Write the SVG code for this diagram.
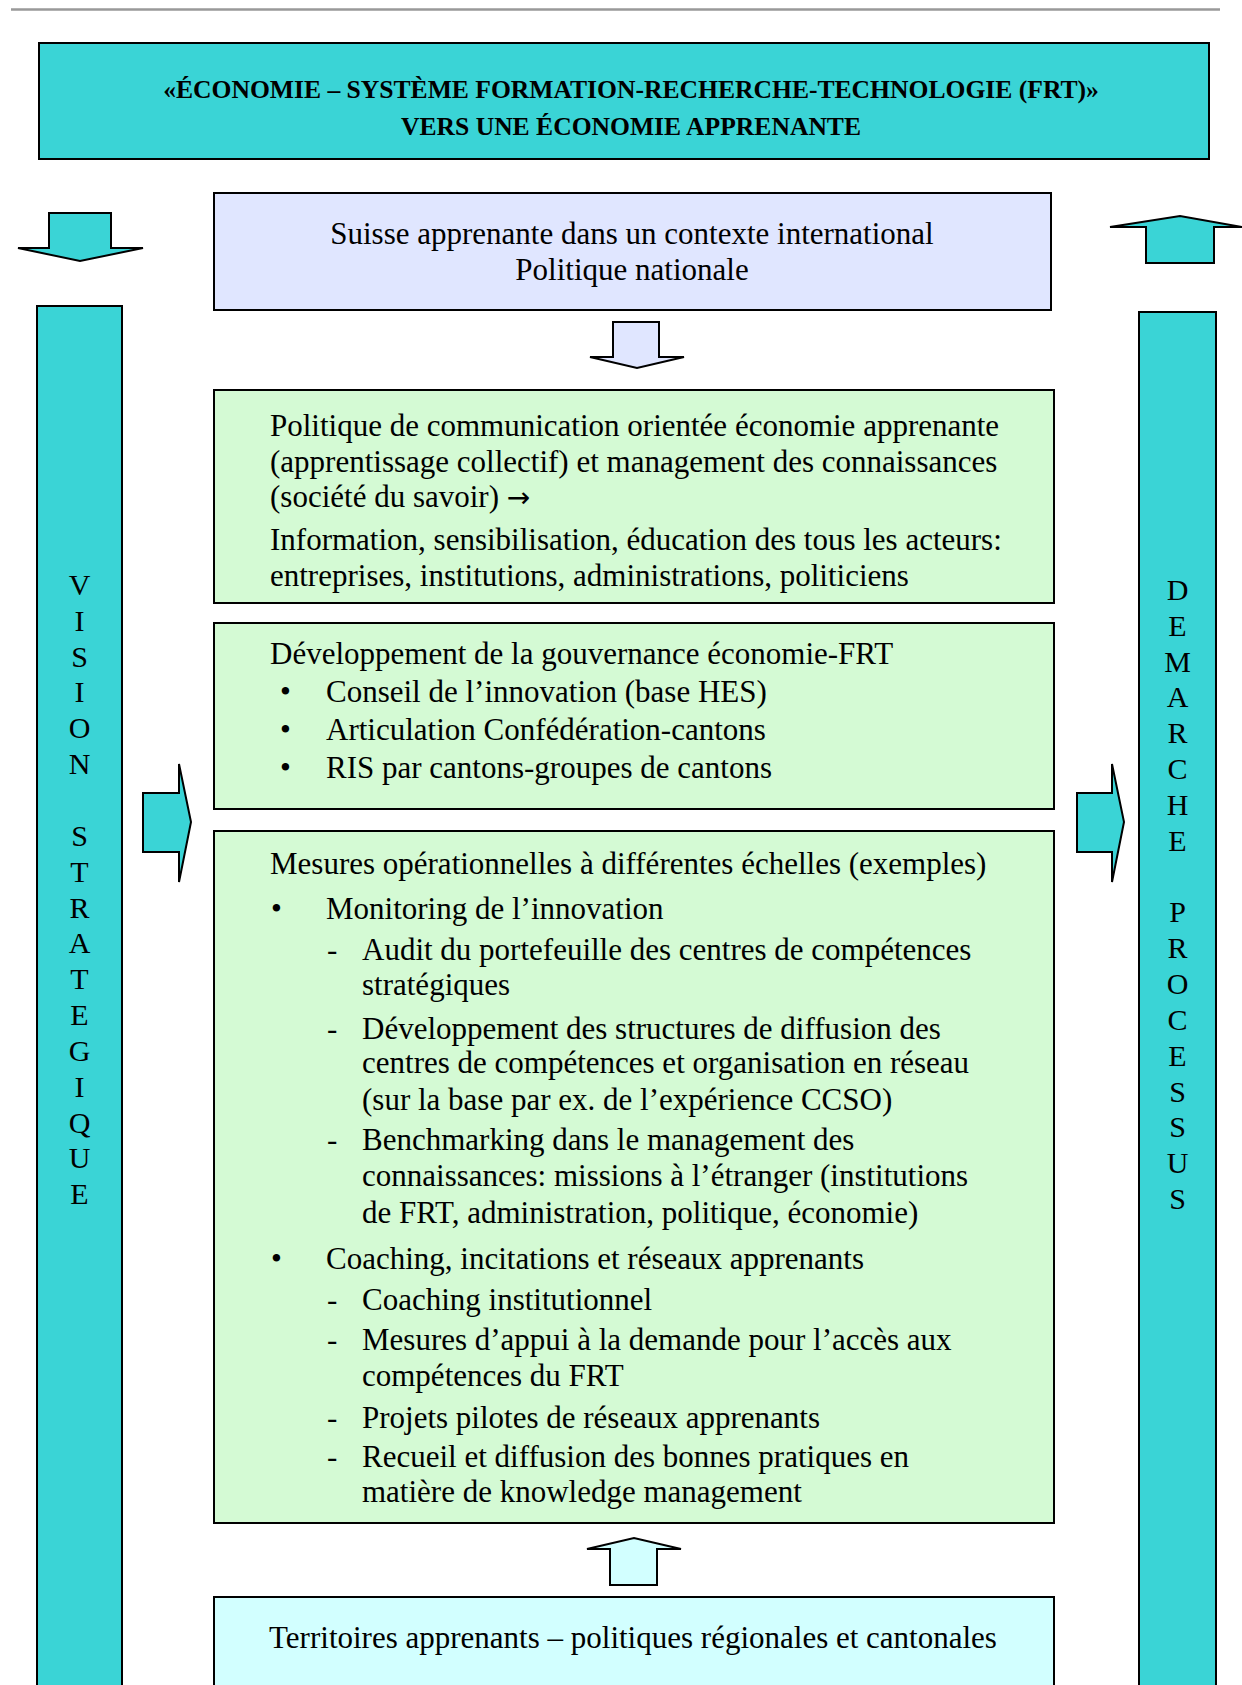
<svg xmlns="http://www.w3.org/2000/svg" width="1242" height="1685" viewBox="0 0 1242 1685">
<style>
.t{font-family:"Liberation Serif","Times New Roman",serif;font-size:31px;fill:#000}
.ti{font-family:"Liberation Serif","Times New Roman",serif;font-size:25.6px;font-weight:bold;fill:#000}
.c{text-anchor:middle}
.lt{font-family:"Liberation Serif","Times New Roman",serif;font-size:30px;fill:#000;text-anchor:middle}
.box{stroke:#000;stroke-width:2}
.cyan{fill:#3AD4D6}
.green{fill:#D4FAD4}
.lav{fill:#E0E6FF}
.lcy{fill:#D2FFFF}
.arr{stroke:#000;stroke-width:2;stroke-linejoin:miter}
.sym{font-family:"DejaVu Sans",sans-serif;font-size:28px}
</style>
<rect width="1242" height="1685" fill="#fff"/>
<line x1="11" y1="9.5" x2="1220" y2="9.5" stroke="#999" stroke-width="2.5"/>

<g id="title">
<rect class="box cyan" x="39" y="43" width="1170" height="116"/>
<text class="ti c" x="631" y="98">«ÉCONOMIE – SYSTÈME FORMATION-RECHERCHE-TECHNOLOGIE (FRT)»</text>
<text class="ti c" x="631" y="135">VERS UNE ÉCONOMIE APPRENANTE</text>
</g>

<g id="vision">
<rect class="box cyan" x="37" y="306" width="85" height="1400"/>
<text class="lt" x="79.5" y="595">V</text>
<text class="lt" x="79.5" y="631">I</text>
<text class="lt" x="79.5" y="667">S</text>
<text class="lt" x="79.5" y="702">I</text>
<text class="lt" x="79.5" y="738">O</text>
<text class="lt" x="79.5" y="774">N</text>
<text class="lt" x="79.5" y="846">S</text>
<text class="lt" x="79.5" y="882">T</text>
<text class="lt" x="79.5" y="918">R</text>
<text class="lt" x="79.5" y="953">A</text>
<text class="lt" x="79.5" y="989">T</text>
<text class="lt" x="79.5" y="1025">E</text>
<text class="lt" x="79.5" y="1061">G</text>
<text class="lt" x="79.5" y="1097">I</text>
<text class="lt" x="79.5" y="1133">Q</text>
<text class="lt" x="79.5" y="1168">U</text>
<text class="lt" x="79.5" y="1204">E</text>
</g>

<g id="demarche">
<rect class="box cyan" x="1139" y="312" width="77" height="1400"/>
<text class="lt" x="1177.5" y="600">D</text>
<text class="lt" x="1177.5" y="636">E</text>
<text class="lt" x="1177.5" y="672">M</text>
<text class="lt" x="1177.5" y="707">A</text>
<text class="lt" x="1177.5" y="743">R</text>
<text class="lt" x="1177.5" y="779">C</text>
<text class="lt" x="1177.5" y="815">H</text>
<text class="lt" x="1177.5" y="851">E</text>
<text class="lt" x="1177.5" y="922">P</text>
<text class="lt" x="1177.5" y="958">R</text>
<text class="lt" x="1177.5" y="994">O</text>
<text class="lt" x="1177.5" y="1030">C</text>
<text class="lt" x="1177.5" y="1066">E</text>
<text class="lt" x="1177.5" y="1102">S</text>
<text class="lt" x="1177.5" y="1137">S</text>
<text class="lt" x="1177.5" y="1173">U</text>
<text class="lt" x="1177.5" y="1209">S</text>
</g>

<g id="suisse">
<rect class="box lav" x="214" y="193" width="837" height="117"/>
<text class="t c" x="632" y="244">Suisse apprenante dans un contexte international</text>
<text class="t c" x="632" y="280">Politique nationale</text>
</g>

<g id="communication">
<rect class="box green" x="214" y="390" width="840" height="213"/>
<text class="t" x="270" y="436">Politique de communication orientée économie apprenante</text>
<text class="t" x="270" y="472">(apprentissage collectif) et management des connaissances</text>
<text class="t" x="270" y="507">(société du savoir) <tspan class="sym">→</tspan></text>
<text class="t" x="270" y="550">Information, sensibilisation, éducation des tous les acteurs:</text>
<text class="t" x="270" y="586">entreprises, institutions, administrations, politiciens</text>
</g>

<g id="gouvernance">
<rect class="box green" x="214" y="623" width="840" height="186"/>
<text class="t" x="270" y="664">Développement de la gouvernance économie-FRT</text>
<text class="t" x="280" y="702">•</text><text class="t" x="326" y="702">Conseil de l’innovation (base HES)</text>
<text class="t" x="280" y="740">•</text><text class="t" x="326" y="740">Articulation Confédération-cantons</text>
<text class="t" x="280" y="778">•</text><text class="t" x="326" y="778">RIS par cantons-groupes de cantons</text>
</g>

<g id="mesures">
<rect class="box green" x="214" y="831" width="840" height="692"/>
<text class="t" x="270" y="874">Mesures opérationnelles à différentes échelles (exemples)</text>
<text class="t" x="271" y="919">•</text><text class="t" x="326" y="919">Monitoring de l’innovation</text>
<text class="t" x="327" y="960">-</text><text class="t" x="362" y="960">Audit du portefeuille des centres de compétences</text>
<text class="t" x="362" y="995">stratégiques</text>
<text class="t" x="327" y="1039">-</text><text class="t" x="362" y="1039">Développement des structures de diffusion des</text>
<text class="t" x="362" y="1073">centres de compétences et organisation en réseau</text>
<text class="t" x="362" y="1110">(sur la base par ex. de l’expérience CCSO)</text>
<text class="t" x="327" y="1150">-</text><text class="t" x="362" y="1150">Benchmarking dans le management des</text>
<text class="t" x="362" y="1186">connaissances: missions à l’étranger (institutions</text>
<text class="t" x="362" y="1223">de FRT, administration, politique, économie)</text>
<text class="t" x="271" y="1269">•</text><text class="t" x="326" y="1269">Coaching, incitations et réseaux apprenants</text>
<text class="t" x="327" y="1310">-</text><text class="t" x="362" y="1310">Coaching institutionnel</text>
<text class="t" x="327" y="1350">-</text><text class="t" x="362" y="1350">Mesures d’appui à la demande pour l’accès aux</text>
<text class="t" x="362" y="1386">compétences du FRT</text>
<text class="t" x="327" y="1428">-</text><text class="t" x="362" y="1428">Projets pilotes de réseaux apprenants</text>
<text class="t" x="327" y="1467">-</text><text class="t" x="362" y="1467">Recueil et diffusion des bonnes pratiques en</text>
<text class="t" x="362" y="1502">matière de knowledge management</text>
</g>

<g id="territoires">
<rect class="box lcy" x="214" y="1597" width="840" height="120"/>
<text class="t c" x="633" y="1648">Territoires apprenants – politiques régionales et cantonales</text>
</g>

<g id="connectors">
<path class="arr cyan" d="M49,213 H111 V248 H143 L80,261 L18,248 H49 Z"/>
<path class="arr cyan" d="M1146,263 V227 H1110 L1180,216 L1242,227 H1214 V263 Z"/>
<path class="arr lav" d="M613,322 H659 V357 H684 L637,368 L590,357 H613 Z"/>
<path class="arr lcy" d="M610,1585 V1549 H587 L634,1538 L681,1549 H657 V1585 Z"/>
<path class="arr cyan" d="M143,793 H179 V764 L191,822 L179,882 V852 H143 Z"/>
<path class="arr cyan" d="M1077,793 H1112 V764 L1124,822 L1112,882 V852 H1077 Z"/>
</g>
</svg>
